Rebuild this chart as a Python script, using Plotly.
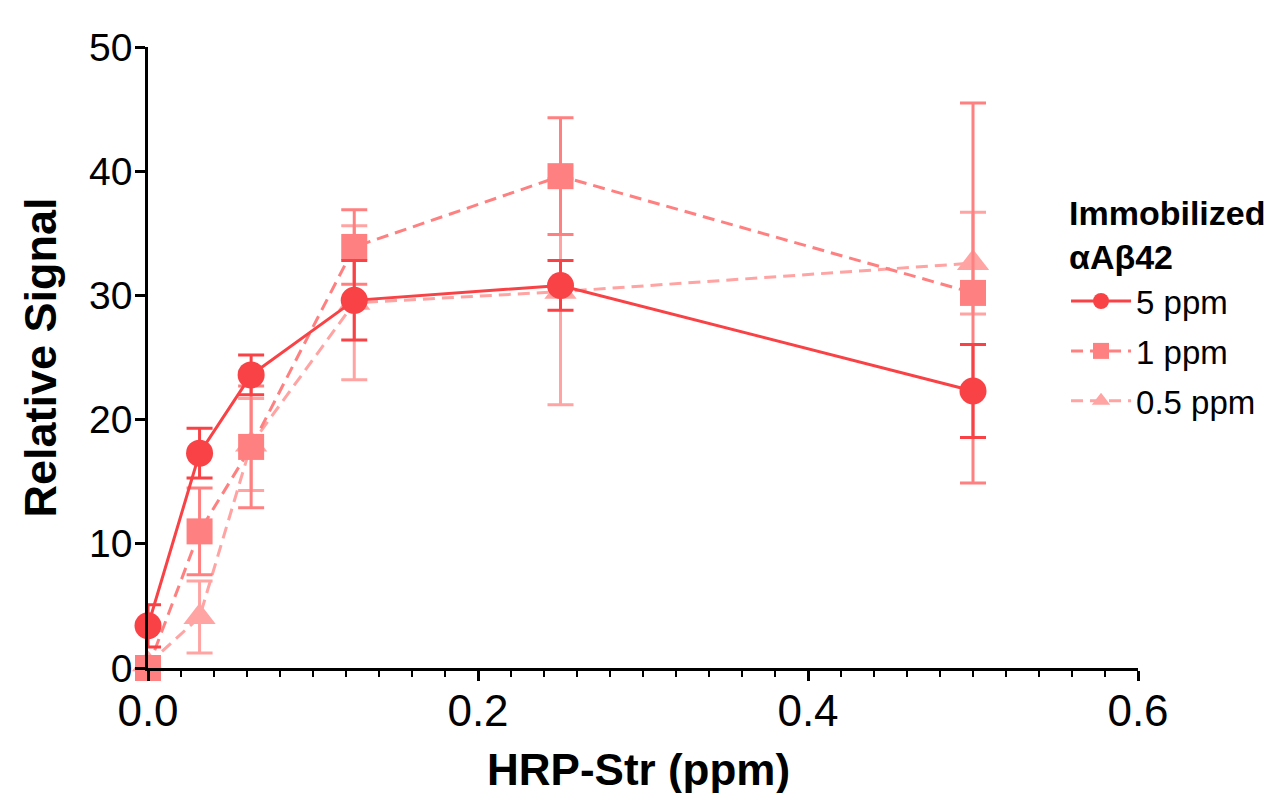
import plotly.graph_objects as go

x_vals = [0, 0.03125, 0.0625, 0.125, 0.25, 0.5]

series_names = ["5 ppm", "1 ppm", "0.5 ppm"]
y_5ppm = [3.4, 17.3, 23.6, 29.6, 30.8, 22.3]
err_5ppm = [1.7, 2.0, 1.6, 3.2, 2.0, 3.75]
y_1ppm = [0.0, 11.0, 17.8, 33.9, 39.6, 30.2]
err_1ppm = [0.0, 3.5, 4.9, 3.0, 4.7, 15.3]
y_05ppm = [0.3, 4.1, 18.0, 29.4, 30.3, 32.6]
err_05ppm = [0.3, 2.9, 3.7, 6.2, 9.1, 4.1]

legend_title = "<b>Immobilized<br>αAβ42</b>"
x_title = "<b>HRP-Str (ppm)</b>"
y_title = "<b>Relative Signal</b>"

colors = ["#F84246", "#FF8080", "#FFA3A3"]
symbols = ["circle", "square", "triangle-up"]
sizes = [27, 26, 28]
dashes = ["solid", "12px,7px", "12px,7px"]
ys = [y_5ppm, y_1ppm, y_05ppm]
errs = [err_5ppm, err_1ppm, err_05ppm]

fig = go.Figure()
# draw lightest first so darker on top
for i in [2, 1, 0]:
    fig.add_trace(go.Scatter(
        x=x_vals, y=ys[i], name=series_names[i], legendgroup=series_names[i],
        legendrank=i + 1,
        mode="lines+markers",
        line=dict(color=colors[i], width=3, dash=dashes[i]),
        marker=dict(symbol=symbols[i], size=sizes[i], color=colors[i]),
        error_y=dict(type="data", array=errs[i], visible=True, color=colors[i], thickness=3, width=13),
        cliponaxis=False,
    ))

# page body has an 8px margin in the browser; compensate
fig.update_layout(
    width=1280, height=793,
    paper_bgcolor="white", plot_bgcolor="white",
    margin=dict(l=140, r=150, t=39, b=133),
    font=dict(family="Liberation Sans, Arial, sans-serif", color="black"),
    legend=dict(
        font=dict(size=33), x=0.9273, y=0.636, xanchor="left", yanchor="top",
        traceorder="grouped", bgcolor="rgba(0,0,0,0)", itemwidth=60,
        tracegroupgap=4,
    ),
    showlegend=True,
    annotations=[
        dict(text=legend_title, xref="paper", yref="paper", x=0.928, y=0.697,
             xanchor="left", yanchor="middle", align="left", showarrow=False,
             font=dict(size=34, color="black")),
        dict(text=x_title, xref="paper", yref="paper", x=0.495, y=-0.163,
             xanchor="center", yanchor="middle", showarrow=False,
             font=dict(size=44, color="black")),
    ],
)
fig.update_xaxes(
    range=[0, 0.6], tickvals=[0, 0.2, 0.4, 0.6], ticktext=["0.0", "0.2", "0.4", "0.6"],
    showline=True, linecolor="black", linewidth=2.5, ticks="outside", ticklen=10, tickwidth=2.5,
    tickcolor="black", showgrid=False, zeroline=False, automargin=False,
    tickfont=dict(size=44), ticklabelstandoff=-8,
    minor=dict(dtick=0.02, tick0=0, ticks="outside", ticklen=6, tickwidth=1.5, tickcolor="black", showgrid=False),
)
fig.update_yaxes(
    range=[0, 50], tickvals=[0, 10, 20, 30, 40, 50],
    showline=True, linecolor="black", linewidth=2.5, ticks="outside", ticklen=10, tickwidth=2.5,
    tickcolor="black", showgrid=False, zeroline=False, automargin=False,
    tickfont=dict(size=39), ticklabelstandoff=-5,
    title=dict(text=y_title, font=dict(size=45), standoff=19),
)
fig.write_html("out.html")
